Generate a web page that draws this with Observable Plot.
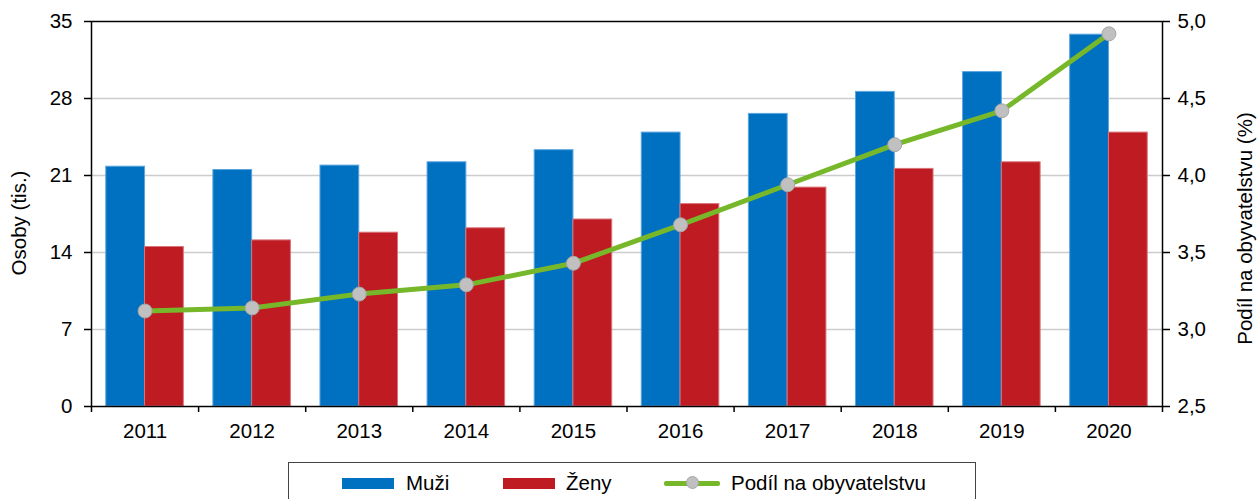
<!DOCTYPE html>
<html><head><meta charset="utf-8">
<script src="https://cdn.jsdelivr.net/npm/d3@7"></script>
<script src="https://cdn.jsdelivr.net/npm/@observablehq/plot@0.6"></script>
<style>
body{margin:0;background:#fff;font-family:"Liberation Sans",Arial,sans-serif;}
#wrap{position:relative;width:1259px;height:499px;overflow:hidden;}
#chart{position:absolute;left:0;top:0;}
#legend{position:absolute;left:288px;top:462px;width:688px;height:60px;border:1.5px solid #444;box-sizing:border-box;}
.sw{position:absolute;height:11px;width:52px;top:478px;}
.lt{position:absolute;top:471px;font-size:20.5px;line-height:24px;color:#000;white-space:nowrap;}
.ln{position:absolute;left:664px;top:481px;width:56px;height:5px;background:#77b82a;border-radius:2px;}
.dt{position:absolute;left:686px;top:476px;width:13px;height:13px;border-radius:50%;background:#c0c0c0;border:1px solid #a6a6a6;box-sizing:border-box;}
</style></head><body>
<div id="wrap">
<div id="chart"></div>
<div id="legend"></div>
<div class="sw" style="left:342px;background:#0070c0"></div>
<div class="lt" style="left:406px">Muži</div>
<div class="sw" style="left:503px;background:#be1b23"></div>
<div class="lt" style="left:566px">Ženy</div>
<div class="ln"></div><div class="dt"></div>
<div class="lt" style="left:731px">Podíl na obyvatelstvu</div>
</div>
<script>
const years = ["2011","2012","2013","2014","2015","2016","2017","2018","2019","2020"];
const muzi  = [21.8, 21.5, 21.9, 22.2, 23.3, 24.9, 26.6, 28.6, 30.4, 33.8];
const zeny  = [14.5, 15.1, 15.8, 16.2, 17.0, 18.4, 19.9, 21.6, 22.2, 24.9];
const podil = [3.12, 3.14, 3.23, 3.29, 3.43, 3.68, 3.94, 4.20, 4.42, 4.92];
const leftTicks  = [0, 7, 14, 21, 28, 35];
const rightTicks = [2.5, 3.0, 3.5, 4.0, 4.5, 5.0];
const gridTicks  = [7, 14, 21, 28];

const toLeft = v => (v - 2.5) / 2.5 * 35;
const fromLeft = d => 2.5 + d / 35 * 2.5;
const idx = years.map((_, i) => i);
const bounds = years.map((_, i) => i - 0.5).concat([years.length - 0.5]);
const muziData = years.map((y, i) => ({i, v: muzi[i]}));
const zenyData = years.map((y, i) => ({i, v: zeny[i]}));
const pts = years.map((y, i) => ({i, v: toLeft(podil[i])}));
const bw = 0.362;

const chart = Plot.plot({
  width: 1259, height: 455,
  marginTop: 21, marginBottom: 49, marginLeft: 91, marginRight: 97,
  x: {type: "linear", domain: [-0.5, years.length - 0.5]},
  y: {domain: [0, 35]},
  style: {fontFamily: "'Liberation Sans', Arial, sans-serif", fontSize: "20.5px", color: "#000", background: "#fff"},
  marks: [
    Plot.ruleY(gridTicks, {stroke: "#cccccc", strokeWidth: 1.5}),
    Plot.rectY(muziData, {x1: d => d.i - bw, x2: d => d.i, y1: 0, y2: "v", fill: "#0070c0", stroke: "#5aa5e0", strokeWidth: 1, inset: 0}),
    Plot.rectY(zenyData, {x1: d => d.i, x2: d => d.i + bw, y1: 0, y2: "v", fill: "#be1b23", stroke: "#d9747a", strokeWidth: 1, inset: 0}),
    Plot.line(pts, {x: "i", y: "v", stroke: "#77b82a", strokeWidth: 5}),
    Plot.dot(pts, {x: "i", y: "v", r: 7, fill: "#c0c0c0", stroke: "#a6a6a6", strokeWidth: 1}),
    Plot.frame({stroke: "#000", strokeWidth: 1.5}),
    Plot.axisY(leftTicks, {anchor: "left", tickSize: 7, tickPadding: 12, label: null, strokeWidth: 1.5}),
    Plot.axisY(rightTicks.map(toLeft), {anchor: "right", tickSize: 7, tickPadding: 8, label: null, strokeWidth: 1.5,
      tickFormat: d => fromLeft(d).toFixed(1).replace(".", ",")}),
    Plot.axisX(bounds, {anchor: "bottom", tickSize: 6, tickFormat: () => "", label: null, strokeWidth: 1.5}),
    Plot.axisX(idx, {anchor: "bottom", tickSize: 0, tickPadding: 17, label: null, tickFormat: i => years[i]}),
    Plot.text(["Osoby (tis.)"], {text: d => d, frameAnchor: "left", textAnchor: "middle", dx: -72, dy: 9, rotate: -90}),
    Plot.text(["Podíl na obyvatelstvu (%)"], {text: d => d, frameAnchor: "right", textAnchor: "middle", dx: 83, dy: 14.5, rotate: -90})
  ]
});
document.getElementById("chart").appendChild(chart);
</script>
</body></html>
